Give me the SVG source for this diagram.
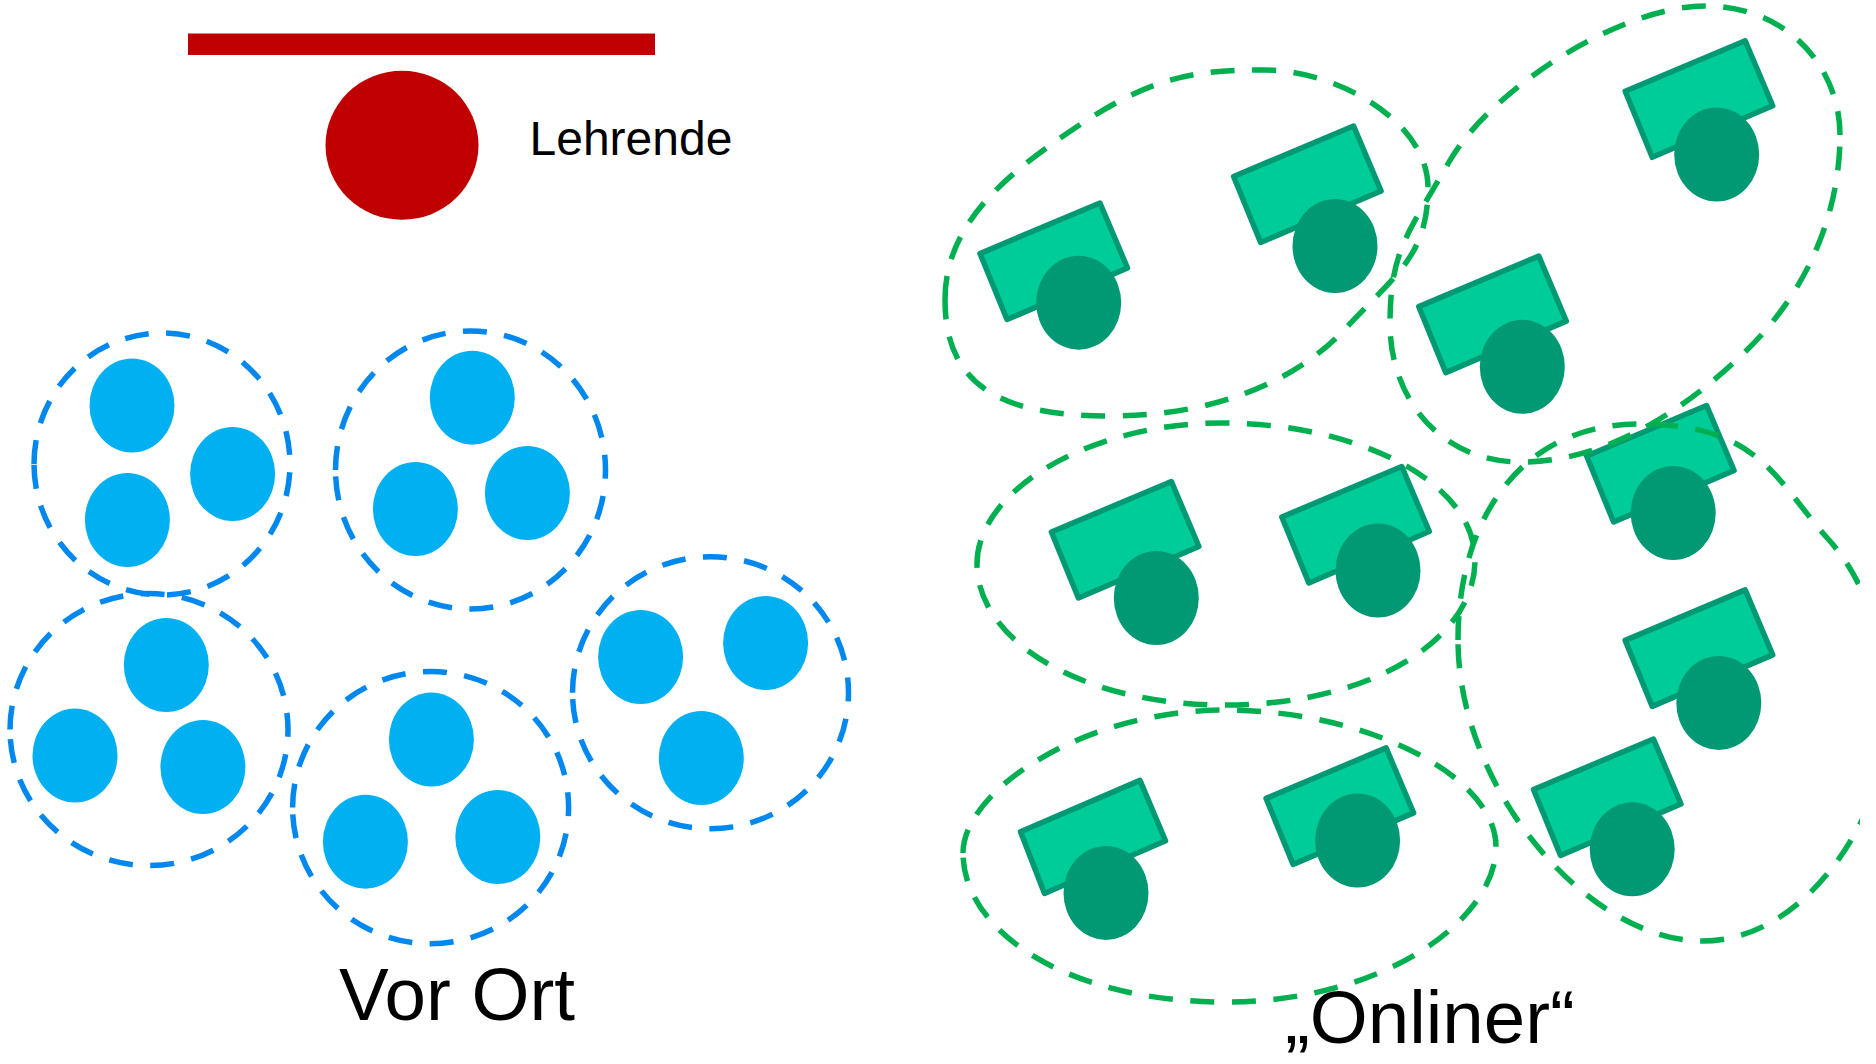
<svg xmlns="http://www.w3.org/2000/svg" width="1876" height="1064" viewBox="0 0 1876 1064">
<style>
.label{font-family:"Liberation Sans",Arial,sans-serif;fill:#000}
.big{font-size:74.5px}
.person{fill:#00B0F0}
.ring{fill:none;stroke:#0088EE;stroke-width:5.5;stroke-dasharray:24 17.500}
.blob{fill:none;stroke:#00B050;stroke-width:5.500;stroke-dasharray:24 17.500}
.head{fill:#009973}
.desk{fill:#00CC99;stroke:#009973;stroke-width:5.500;stroke-linejoin:round}
</style>
<defs>
<polygon id="deskShape" class="desk" points="0,0 120,-50.5 147.5,14.5 27,66"/>
<clipPath id="pageClip"><rect x="0" y="0" width="1860" height="1064"/></clipPath>
</defs>
<rect width="1876" height="1064" fill="#fff"/>
<g id="lehrende">
<rect x="188" y="33.500" width="467" height="21.500" fill="#C00000"/>
<ellipse cx="402" cy="145.300" rx="76.500" ry="74.500" fill="#C00000"/>
<text class="label" x="529.500" y="155" font-size="48">Lehrende</text>
</g>
<g id="vor-ort-1">
<path class="ring" d="M34,464 A128,131 0 1 1 290,464 A128,131 0 1 1 34,464 Z"/>
<ellipse class="person" cx="132" cy="405.500" rx="42.500" ry="47"/>
<ellipse class="person" cx="232.600" cy="474" rx="42.500" ry="47"/>
<ellipse class="person" cx="127.400" cy="520" rx="42.500" ry="47"/>
</g>
<g id="vor-ort-2">
<path class="ring" d="M335.500,470 A135,139 0 1 1 605.500,470 A135,139 0 1 1 335.500,470 Z"/>
<ellipse class="person" cx="472.300" cy="397.700" rx="42.500" ry="47"/>
<ellipse class="person" cx="415.400" cy="509" rx="42.500" ry="47"/>
<ellipse class="person" cx="527.400" cy="493" rx="42.500" ry="47"/>
</g>
<g id="vor-ort-3">
<path class="ring" d="M10,729.600 A139,136 0 1 1 288,729.600 A139,136 0 1 1 10,729.600 Z"/>
<ellipse class="person" cx="166.300" cy="665" rx="42.500" ry="47"/>
<ellipse class="person" cx="75" cy="755.600" rx="42.500" ry="47"/>
<ellipse class="person" cx="202.900" cy="767" rx="42.500" ry="47"/>
</g>
<g id="vor-ort-4">
<path class="ring" d="M292.600,807.600 A138,136 0 1 1 568.600,807.600 A138,136 0 1 1 292.600,807.600 Z"/>
<ellipse class="person" cx="431.400" cy="739.600" rx="42.500" ry="47"/>
<ellipse class="person" cx="365.400" cy="841.700" rx="42.500" ry="47"/>
<ellipse class="person" cx="497.800" cy="837" rx="42.500" ry="47"/>
</g>
<g id="vor-ort-5">
<path class="ring" d="M572.500,692.700 A138,136 0 1 1 848.500,692.700 A138,136 0 1 1 572.500,692.700 Z"/>
<ellipse class="person" cx="640.600" cy="657" rx="42.500" ry="47"/>
<ellipse class="person" cx="765.600" cy="643" rx="42.500" ry="47"/>
<ellipse class="person" cx="701.300" cy="758" rx="42.500" ry="47"/>
</g>
<g id="onliner-desks">
<use href="#deskShape" x="980" y="253.500"/><ellipse class="head" cx="1078.700" cy="302.700" rx="42.500" ry="47"/>
<use href="#deskShape" x="1233.600" y="176.500"/><ellipse class="head" cx="1335" cy="246" rx="42.500" ry="47"/>
<use href="#deskShape" x="1625.200" y="91.300"/><ellipse class="head" cx="1716.700" cy="154.500" rx="42.500" ry="47"/>
<use href="#deskShape" x="1418.800" y="306.600"/><ellipse class="head" cx="1522.300" cy="366.800" rx="42.500" ry="47"/>
<use href="#deskShape" x="1586.600" y="456"/><ellipse class="head" cx="1673.200" cy="513" rx="42.500" ry="47"/>
<use href="#deskShape" x="1051.400" y="532"/><ellipse class="head" cx="1156.300" cy="598" rx="42.500" ry="47"/>
<use href="#deskShape" x="1281.800" y="517"/><ellipse class="head" cx="1378" cy="570.500" rx="42.500" ry="47"/>
<use href="#deskShape" x="1625.200" y="640.400"/><ellipse class="head" cx="1718.800" cy="702.900" rx="42.500" ry="47"/>
<use href="#deskShape" x="1533.500" y="789.500"/><ellipse class="head" cx="1632.200" cy="849.300" rx="42.500" ry="47"/>
<polygon class="desk" points="1020.500,831.800 1140,780.400 1165.500,840.700 1044.500,893.400"/><ellipse class="head" cx="1106" cy="892.900" rx="42.500" ry="47"/>
<use href="#deskShape" x="1266.100" y="798.400"/><ellipse class="head" cx="1357.600" cy="840.500" rx="42.500" ry="47"/>
</g>
<g id="onliner-groups">
<path class="blob" d="M945,300 C945,225 1003,176 1078,126 S1195,70 1265,70 S1428,120 1428,188 S1395,275 1346,328 S1215,416 1111,416 S945,390 945,300 Z"/>
<path class="blob" d="M1840,135 C1840,70 1790,6 1705,6 S1490,90 1449,162 S1390,250 1390,324 S1440,462 1521,462 S1680,415 1745,352 S1840,210 1840,135 Z"/>
<path class="blob" d="M977,564 C977,490 1090,423 1222,423 S1475,480 1475,560 S1370,705 1225,705 S977,640 977,564 Z"/>
<path class="blob" d="M963,853 C963,790 1085,710 1225,710 S1496,775 1496,847 S1385,1002 1225,1002 S963,930 963,853 Z"/>
<path class="blob" clip-path="url(#pageClip)" d="M1458,640 C1458,520 1520,424 1640,424 S1775,480 1829,540 S1885,680 1885,740 S1815,941 1702,941 S1458,790 1458,640 Z"/>
</g>
<text class="label big" id="vor-ort-label" x="339" y="1020">Vor Ort</text>
<text class="label big" id="onliner-label" x="1285" y="1043">„Onliner“</text>
</svg>
